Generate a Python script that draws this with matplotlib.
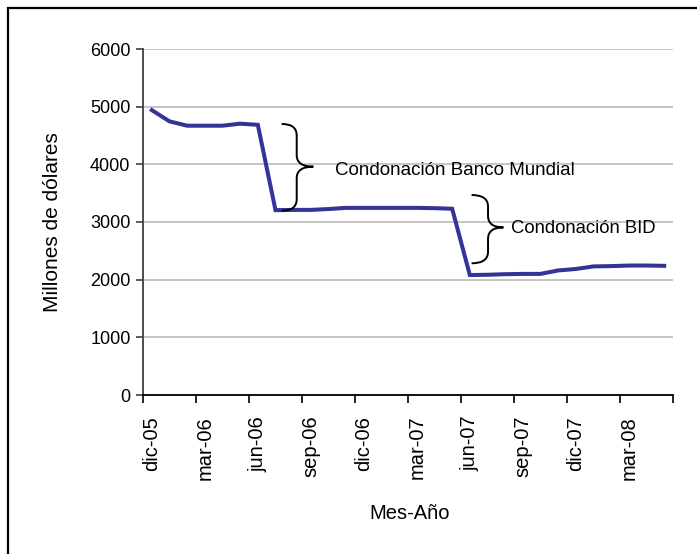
import numpy as np
import matplotlib
matplotlib.use('Agg')
import matplotlib.pyplot as plt
from matplotlib.path import Path
from matplotlib.patches import PathPatch, Rectangle

plt.rcParams['font.family'] = ['Liberation Sans', 'DejaVu Sans']

# monthly data, dic-05 .. may-08
months = ['dic-05', 'ene-06', 'feb-06', 'mar-06', 'abr-06', 'may-06', 'jun-06', 'jul-06',
          'ago-06', 'sep-06', 'oct-06', 'nov-06', 'dic-06', 'ene-07', 'feb-07', 'mar-07',
          'abr-07', 'may-07', 'jun-07', 'jul-07', 'ago-07', 'sep-07', 'oct-07', 'nov-07',
          'dic-07', 'ene-08', 'feb-08', 'mar-08', 'abr-08', 'may-08']
deuda = [4940, 4745, 4670, 4670, 4670, 4705, 4685, 3205,
         3210, 3210, 3225, 3245, 3245, 3245, 3245, 3245,
         3240, 3230, 2080, 2085, 2095, 2100, 2100, 2160,
         2185, 2230, 2235, 2245, 2245, 2240]
yticks = [0, 1000, 2000, 3000, 4000, 5000, 6000]
note1 = 'Condonación Banco Mundial'
note2 = 'Condonación BID'

fig = plt.figure(figsize=(6.97, 5.54), dpi=100)
ax = fig.add_axes([143/697, 1-395/554, 530/697, 346/554])

x = np.arange(len(months)) + 0.5
ax.plot(x, deuda, color='#333399', lw=2.9, solid_joinstyle='miter', zorder=3)

ax.set_xlim(0, len(months))
ax.set_ylim(0, 6000)
ax.set_yticks(yticks)
ax.set_yticklabels([str(v) for v in yticks], fontsize=13)
ax.yaxis.grid(True, color='#c0c0c0', lw=1.3)
ax.set_axisbelow(True)

# major ticks at quarter boundaries, labels at month centres
ax.set_xticks(np.arange(0, len(months) + 1, 3))
ax.set_xticklabels([])
ax.set_xticks(x[::3], minor=True)
ax.set_xticklabels(months[::3], minor=True, rotation=90, fontsize=14.5)
ax.tick_params(axis='x', which='minor', length=0, pad=15)
ax.tick_params(axis='x', which='major', length=6, width=1.2, color='black')
ax.tick_params(axis='y', length=5, width=1.2, color='#404040', pad=4)

for s in ['top', 'right']:
    ax.spines[s].set_visible(False)
ax.spines['left'].set_color('#404040')
ax.spines['left'].set_linewidth(1.3)
ax.spines['bottom'].set_color('black')
ax.spines['bottom'].set_linewidth(1.3)

ax.set_ylabel('Millones de dólares', fontsize=15)
ax.yaxis.set_label_coords(-0.152, 0.5)
ax.set_xlabel('Mes-Año', fontsize=14.5)
ax.xaxis.set_label_coords(0.504, -0.315)


def brace(ax, xl, xs, xt, yt, ym, yb, r):
    verts = [(xl, yt), (xs, yt), (xs, yt - r),
             (xs, ym + r), (xs, ym), (xt, ym),
             (xs, ym), (xs, ym - r),
             (xs, yb + r), (xs, yb), (xl, yb)]
    codes = [Path.MOVETO, Path.CURVE3, Path.CURVE3,
             Path.LINETO, Path.CURVE3, Path.CURVE3,
             Path.CURVE3, Path.CURVE3,
             Path.LINETO, Path.CURVE3, Path.CURVE3]
    ax.add_patch(PathPatch(Path(verts, codes), fill=False, color='black', lw=1.4, zorder=4))


brace(ax, 7.85, 8.7, 9.64, 4700, 3960, 3195, 200)
brace(ax, 18.6, 19.53, 20.4, 3468, 2906, 2284, 200)
ax.text(10.87, 3900, note1, fontsize=13.5, va='center', ha='left')
ax.text(20.83, 2880, note2, fontsize=13.3, va='center', ha='left')

# outer chart border
fig.patches.append(Rectangle((8/697, -0.1), 1.2, 1 - 8/554 + 0.1, transform=fig.transFigure,
                             fill=False, edgecolor='black', lw=1.6))

fig.savefig('out.png', dpi=100)
